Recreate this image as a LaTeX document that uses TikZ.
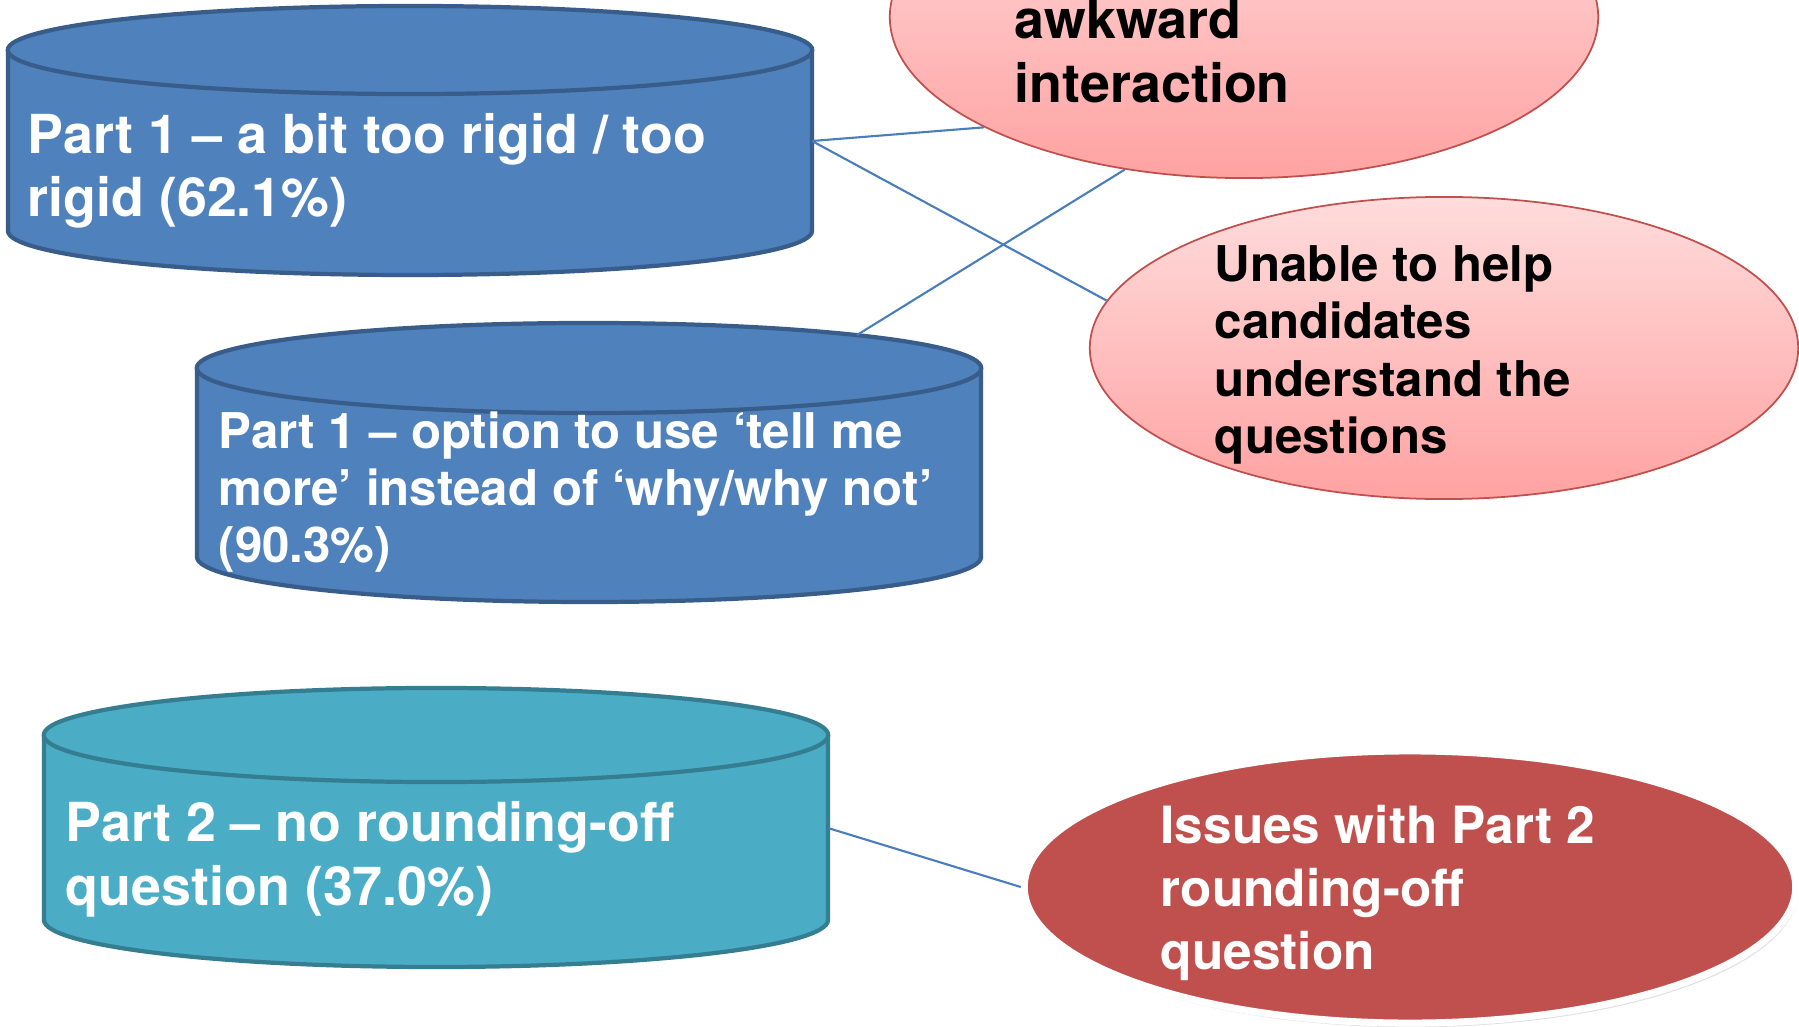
\documentclass[tikz,border=0pt]{standalone}
\usepackage{fontspec}
\setmainfont{TeX Gyre Heros}
\usetikzlibrary{positioning,shapes.geometric,shadows}

\definecolor{drumblue}{HTML}{4F81BD}
\definecolor{drumblueline}{HTML}{385D8A}
\definecolor{drumteal}{HTML}{4BACC6}
\definecolor{drumtealline}{HTML}{357D91}
\definecolor{ovalred}{HTML}{C0504D}
\definecolor{ovaltop}{HTML}{FFDCDC}
\definecolor{ovalbottom}{HTML}{FFA2A2}
\definecolor{linkblue}{HTML}{4A7EBB}

\tikzset{
  link/.style={draw=linkblue, line width=0.6pt},
  drumside/.style={line width=1.2pt},
  drumtop/.style={ellipse, inner sep=0pt, outer sep=0pt, line width=1.2pt},
  softoval/.style={ellipse, inner sep=0pt, draw=ovalred, line width=0.5pt,
    top color=ovaltop, bottom color=ovalbottom},
  hardoval/.style={ellipse, inner sep=0pt, fill=ovalred, draw=white, line width=2pt,
    drop shadow={opacity=0.25, shadow xshift=0.6pt, shadow yshift=-1.2pt}},
  drumtext/.style={anchor=west, align=left, text=white, inner sep=0pt},
  ovaltext/.style={anchor=west, align=left, inner sep=0pt},
}

\begin{document}
\begin{tikzpicture}[x=0.01cm, y=0.01cm]
    \useasboundingbox (0,0) rectangle (1799,1026);
    \clip (0,0) rectangle (1799,1026);

    % drums on the left
    \filldraw[drumside, fill=drumblue, draw=drumblueline] (8,976) -- (8,795)
        arc[start angle=180, end angle=360, x radius=402, y radius=44] -- (812,976);
    \node[drumtop, fill=drumblue, draw=drumblueline, minimum width=8.04cm, minimum height=0.88cm] (top1) at (410,976) {};
    \coordinate (rim1) at (812,885);

    \filldraw[drumside, fill=drumblue, draw=drumblueline] (197,658) -- (197,469)
        arc[start angle=180, end angle=360, x radius=392, y radius=45] -- (981,658);
    \node[drumtop, fill=drumblue, draw=drumblueline, minimum width=7.84cm, minimum height=0.90cm] (top2) at (589,658) {};

    \filldraw[drumside, fill=drumteal, draw=drumtealline] (44,291) -- (44,106)
        arc[start angle=180, end angle=360, x radius=392, y radius=47] -- (828,291);
    \node[drumtop, fill=drumteal, draw=drumtealline, minimum width=7.84cm, minimum height=0.94cm] (top3) at (436,291) {};
    \coordinate (rim3) at (828,198);

    \node[drumtext, font=\fontsize{15.3}{18}\selectfont\bfseries] (part1rigid) at (27,855)
        {Part 1 – a bit too rigid / too\\rigid (62.1\%)};
    \node[drumtext, font=\fontsize{14}{16.3}\selectfont\bfseries] (part1tell) at (218,534)
        {Part 1 – option to use ‘tell me\\more’ instead of ‘why/why not’\\(90.3\%)};
    \node[drumtext, font=\fontsize{15.3}{18.3}\selectfont\bfseries] (part2round) at (65,167)
        {Part 2 – no rounding-off\\question (37.0\%)};

    % ovals on the right
    \node[softoval, minimum width=7.08cm, minimum height=3.22cm] (awkward) at (1244,1009) {};
    \node[softoval, minimum width=7.08cm, minimum height=3.02cm] (unable) at (1444,678) {};
    \node[hardoval, minimum width=7.71cm, minimum height=2.72cm] (issues) at (1410,139) {};

    \node[ovaltext, font=\fontsize{15.3}{18}\selectfont\bfseries] (awkwardtext) at (1014,975)
        {awkward\\interaction};
    \node[ovaltext, font=\fontsize{14}{16.3}\selectfont\bfseries] (unabletext) at (1214,671)
        {Unable to help\\candidates\\understand the\\questions};
    \node[ovaltext, text=white, font=\fontsize{14.6}{18}\selectfont\bfseries] (issuestext) at (1160,133)
        {Issues with Part 2\\rounding-off\\question};

    % links
    \draw[link] (rim1) -- (awkward.203);
    \draw[link] (rim1) -- (unable.172);
    \draw[link] (top2.7.5) -- (awkward.232);
    \draw[link] (rim3) -- (issues.west);
\end{tikzpicture}
\end{document}
